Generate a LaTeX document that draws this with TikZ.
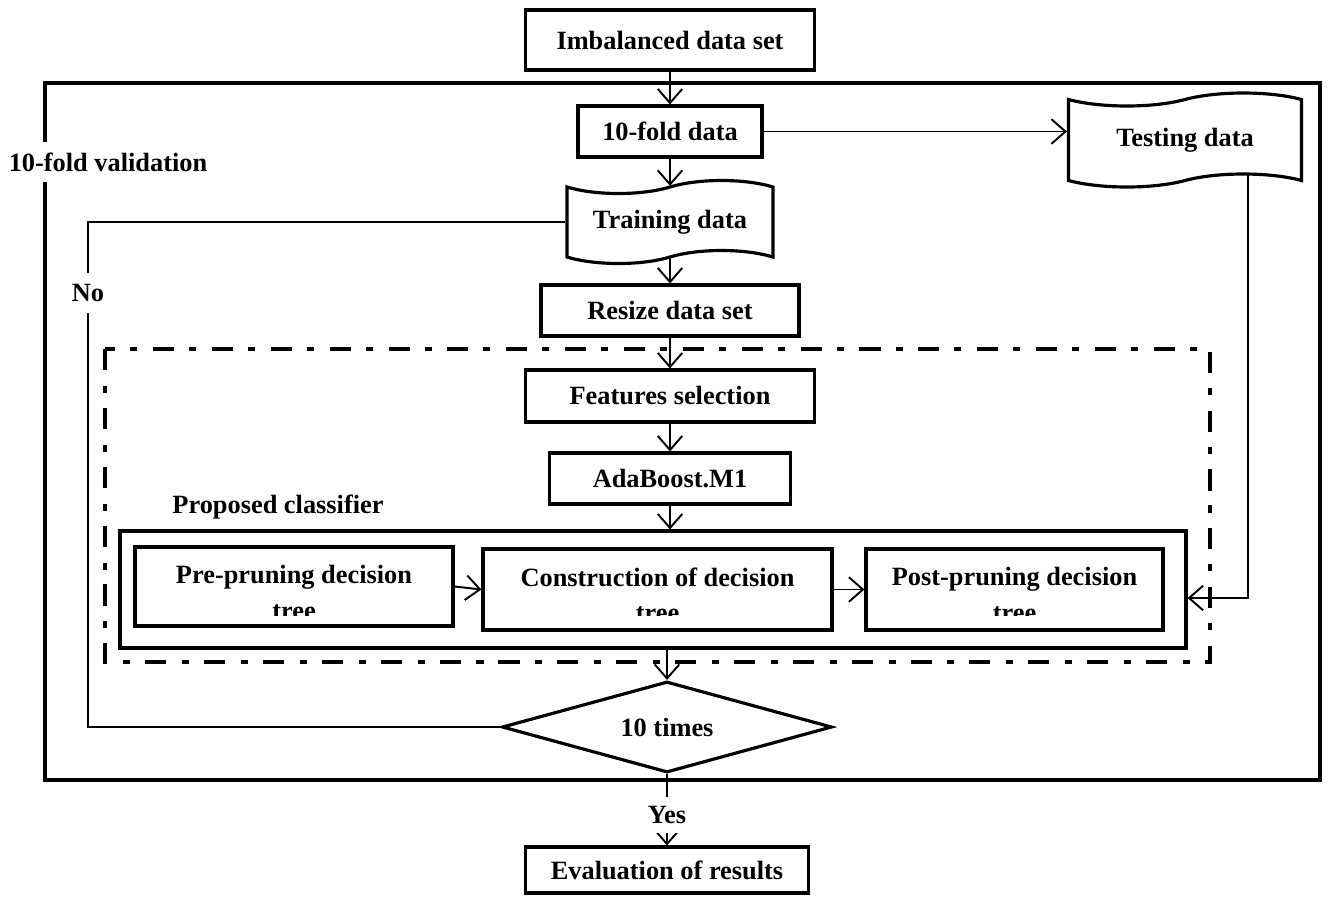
\documentclass[tikz,border=0pt]{standalone}
\usepackage{fontspec}
\setmainfont{Liberation Serif}
\usepackage{tikz}
\usetikzlibrary{arrows.meta,shapes.geometric,shapes.symbols}
\tikzset{every picture/.style={line width=1.1pt}}
\tikzset{
	stepbox/.style={draw,line width=1.8pt,fill=white,inner sep=2pt},
	tapebox/.style={tape,draw,line width=1.8pt,fill=white,tape bend height=0.26cm},
	flow/.style={-{Straight Barb[length=8pt,width=14pt]},line width=1.1pt},
	lbl/.style={fill=white,inner sep=6pt}
}

\begin{document}
\begin{tikzpicture}[every node/.style={font=\fontsize{15pt}{20pt}\selectfont\bfseries}]
\useasboundingbox (0,0) rectangle (26.54,-17.92);
%
\draw[line width=2.3pt] (0.9,-1.66) rectangle (26.4,-15.6);
\draw[line width=2.3pt,dash pattern=on 12pt off 9pt on 4pt off 8.5pt] (2.1,-6.98) rectangle (24.2,-13.24);
%
\node[stepbox,minimum width=5.78cm,minimum height=1.2cm] (imb) at (13.4,-0.8) {Imbalanced data set};
\node[stepbox,minimum width=3.68cm,minimum height=1.02cm] (fold) at (13.4,-2.63) {10-fold data};
\node[tapebox,minimum width=4.12cm,minimum height=1.66cm] (train) at (13.4,-4.44) {Training data};
\node[tapebox,minimum width=4.66cm,minimum height=1.88cm] (test) at (23.7,-2.8) {Testing data};
\node[stepbox,minimum width=5.16cm,minimum height=1.02cm] (resize) at (13.4,-6.21) {Resize data set};
\node[stepbox,minimum width=5.78cm,minimum height=1.04cm] (feat) at (13.4,-7.92) {Features selection};
\node[stepbox,minimum width=4.82cm,minimum height=1.02cm] (ada) at (13.4,-9.57) {AdaBoost.M1};
%
\node[stepbox,minimum width=21.32cm,minimum height=2.34cm] (cls) at (13.06,-11.79) {};
\node (clsLabel) at (5.56,-10.14) {Proposed classifier};
\node[stepbox,minimum width=6.36cm,minimum height=1.58cm] (pre) at (5.88,-11.73) {};
\node[stepbox,minimum width=6.98cm,minimum height=1.62cm] (con) at (13.15,-11.79) {};
\node[stepbox,minimum width=5.94cm,minimum height=1.62cm] (post) at (20.29,-11.79) {};
\begin{scope}
\clip (pre.north west) rectangle ([yshift=0.32cm]post.south east);
\node[align=center] (preTxt) at ([yshift=-0.12cm]pre.center) {Pre-pruning decision\\tree};
\node[align=center] (conTxt) at ([yshift=-0.1cm]con.center) {Construction of decision\\tree};
\node[align=center] (postTxt) at ([yshift=-0.1cm]post.center) {Post-pruning decision\\tree};
\end{scope}
%
\node[diamond,draw,line width=1.8pt,fill=white,shape aspect=3.6,minimum width=6.6cm,minimum height=1.82cm,inner sep=1pt] (dec) at (13.34,-14.54) {10 times};
\node[stepbox,minimum width=5.66cm,minimum height=0.92cm] (eval) at (13.34,-17.4) {Evaluation of results};
%
\node[lbl] (valLabel) at (2.16,-3.24) {10-fold validation};
\node[lbl] (no) at (1.76,-5.86) {No};
%
\foreach \Source/\Target in {%
	imb.south/fold.north,
	fold.south/train.north,
	train.south/resize.north,
	resize.south/feat.north,
	feat.south/ada.north,
	ada.south/ada.south |- cls.north,
	dec.north |- cls.south/dec.north,
	pre.east/con.west,
	con.east/post.west%
    }
\draw[flow] (\Source) -- (\Target);
%
\draw[flow] (fold.east) -- (fold.east -| test.west);
\draw[flow] ([xshift=1.26cm,yshift=0.13cm]test.south) |- ([yshift=-0.17cm]cls.east);
\draw (dec.west) -| (no.south);
\draw (no.north) |- (train.west);
\draw[flow] (dec.south) -- (eval.north);
\node[fill=white,inner sep=5pt] (yes) at (13.34,-16.3) {Yes};
\end{tikzpicture}
\end{document}
